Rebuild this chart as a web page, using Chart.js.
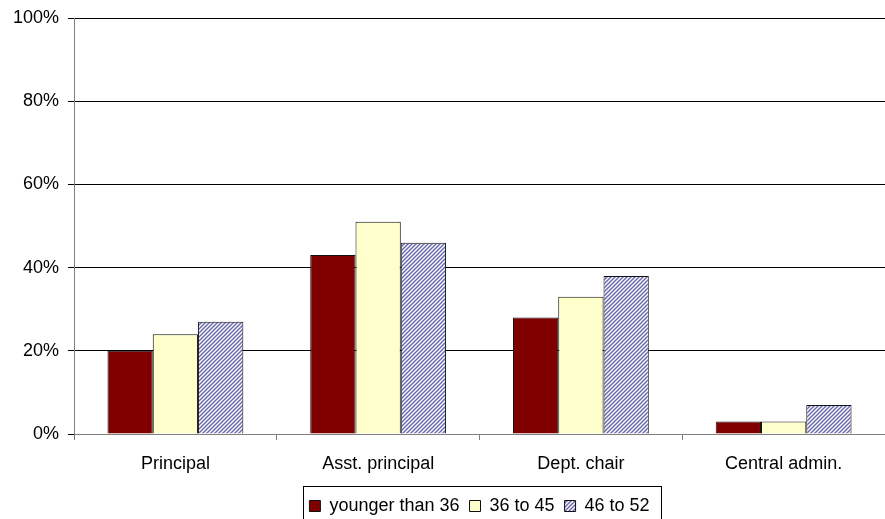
<!DOCTYPE html>
<html>
<head>
<meta charset="utf-8">
<script src="https://cdn.jsdelivr.net/npm/chart.js@4"></script>
<style>
  html, body { margin: 0; padding: 0; background: #fff; }
  #wrap { width: 885px; height: 519px; position: relative; }
</style>
</head>
<body>
<div id="wrap"><canvas id="grafico" width="885" height="519"></canvas></div>
<script>
var categorias = ['Principal', 'Asst. principal', 'Dept. chair', 'Central admin.'];
var menos36 = [20, 43, 28, 3];
var de36a45 = [24, 51, 33, 3];
var de46a52 = [27, 46, 38, 7];
var ticksY = [0, 20, 40, 60, 80, 100];

var fonte = 'Liberation Sans, Arial, sans-serif';

// hachura diagonal para a terceira serie
function criarHachura() {
  var c = document.createElement('canvas');
  c.width = 4; c.height = 4;
  var g = c.getContext('2d');
  g.fillStyle = '#ffffff';
  g.fillRect(0, 0, 4, 4);
  g.strokeStyle = '#6a6ab0';
  g.lineWidth = 1.5;
  g.beginPath();
  g.moveTo(-1, 5); g.lineTo(5, -1);
  g.moveTo(-1, 1); g.lineTo(1, -1);
  g.moveTo(3, 5); g.lineTo(5, 3);
  g.stroke();
  return g.createPattern(c, 'repeat');
}

var ctx = document.getElementById('grafico').getContext('2d');
var hachura = criarHachura();

// borda em volta da legenda
var bordaLegenda = {
  id: 'bordaLegenda',
  afterDraw: function(chart) {
    var boxes = chart.legend.legendHitBoxes;
    if (!boxes || !boxes.length) return;
    var esq = boxes[0].left;
    var dir = boxes[boxes.length - 1].left + boxes[boxes.length - 1].width;
    var c = chart.ctx;
    c.save();
    c.strokeStyle = '#000';
    c.lineWidth = 1;
    c.strokeRect(Math.round(esq - 6) + 0.5, Math.round(boxes[0].top - 11) + 0.5, Math.round(dir - esq + 18), 45);
    c.restore();
  }
};

var data = {
  labels: categorias,
  datasets: [
    { label: 'younger than 36', data: menos36, backgroundColor: '#800000', borderColor: '#111', borderWidth: 1 },
    { label: '36 to 45', data: de36a45, backgroundColor: '#ffffcc', borderColor: '#111', borderWidth: 1 },
    { label: '46 to 52', data: de46a52, backgroundColor: hachura, borderColor: '#111', borderWidth: 1 }
  ]
};

var options = {
  responsive: false,
  animation: false,
  layout: { padding: { left: 4, right: 0, top: 2, bottom: -6 } },
  datasets: { bar: { categoryPercentage: 0.67, barPercentage: 1.0 } },
  plugins: {
    tooltip: { enabled: false },
    legend: {
      position: 'bottom',
      fullSize: false,
      labels: {
        color: '#000',
        font: { family: fonte, size: 18 },
        boxWidth: 11,
        boxHeight: 11,
        padding: 10
      }
    }
  },
  scales: {
    x: {
      offset: true,
      afterFit: function(scale) { scale.height = 53; },
      grid: { display: true, drawOnChartArea: false, offset: true, tickLength: 6, color: '#808080' },
      border: { color: '#808080' },
      ticks: { color: '#000', font: { family: fonte, size: 18 }, padding: 13 }
    },
    y: {
      min: 0,
      max: 100,
      afterBuildTicks: function(axis) {
        axis.ticks = ticksY.map(function(v) { return { value: v }; });
      },
      grid: { color: '#000', tickLength: 6, lineWidth: 1 },
      border: { color: '#808080' },
      ticks: {
        color: '#000',
        font: { family: fonte, size: 18, lineHeight: 1.0 },
        padding: 9,
        callback: function(v) { return v + '%'; }
      }
    }
  }
};

new Chart(ctx, { type: 'bar', data: data, options: options, plugins: [bordaLegenda] });
</script>
</body>
</html>
